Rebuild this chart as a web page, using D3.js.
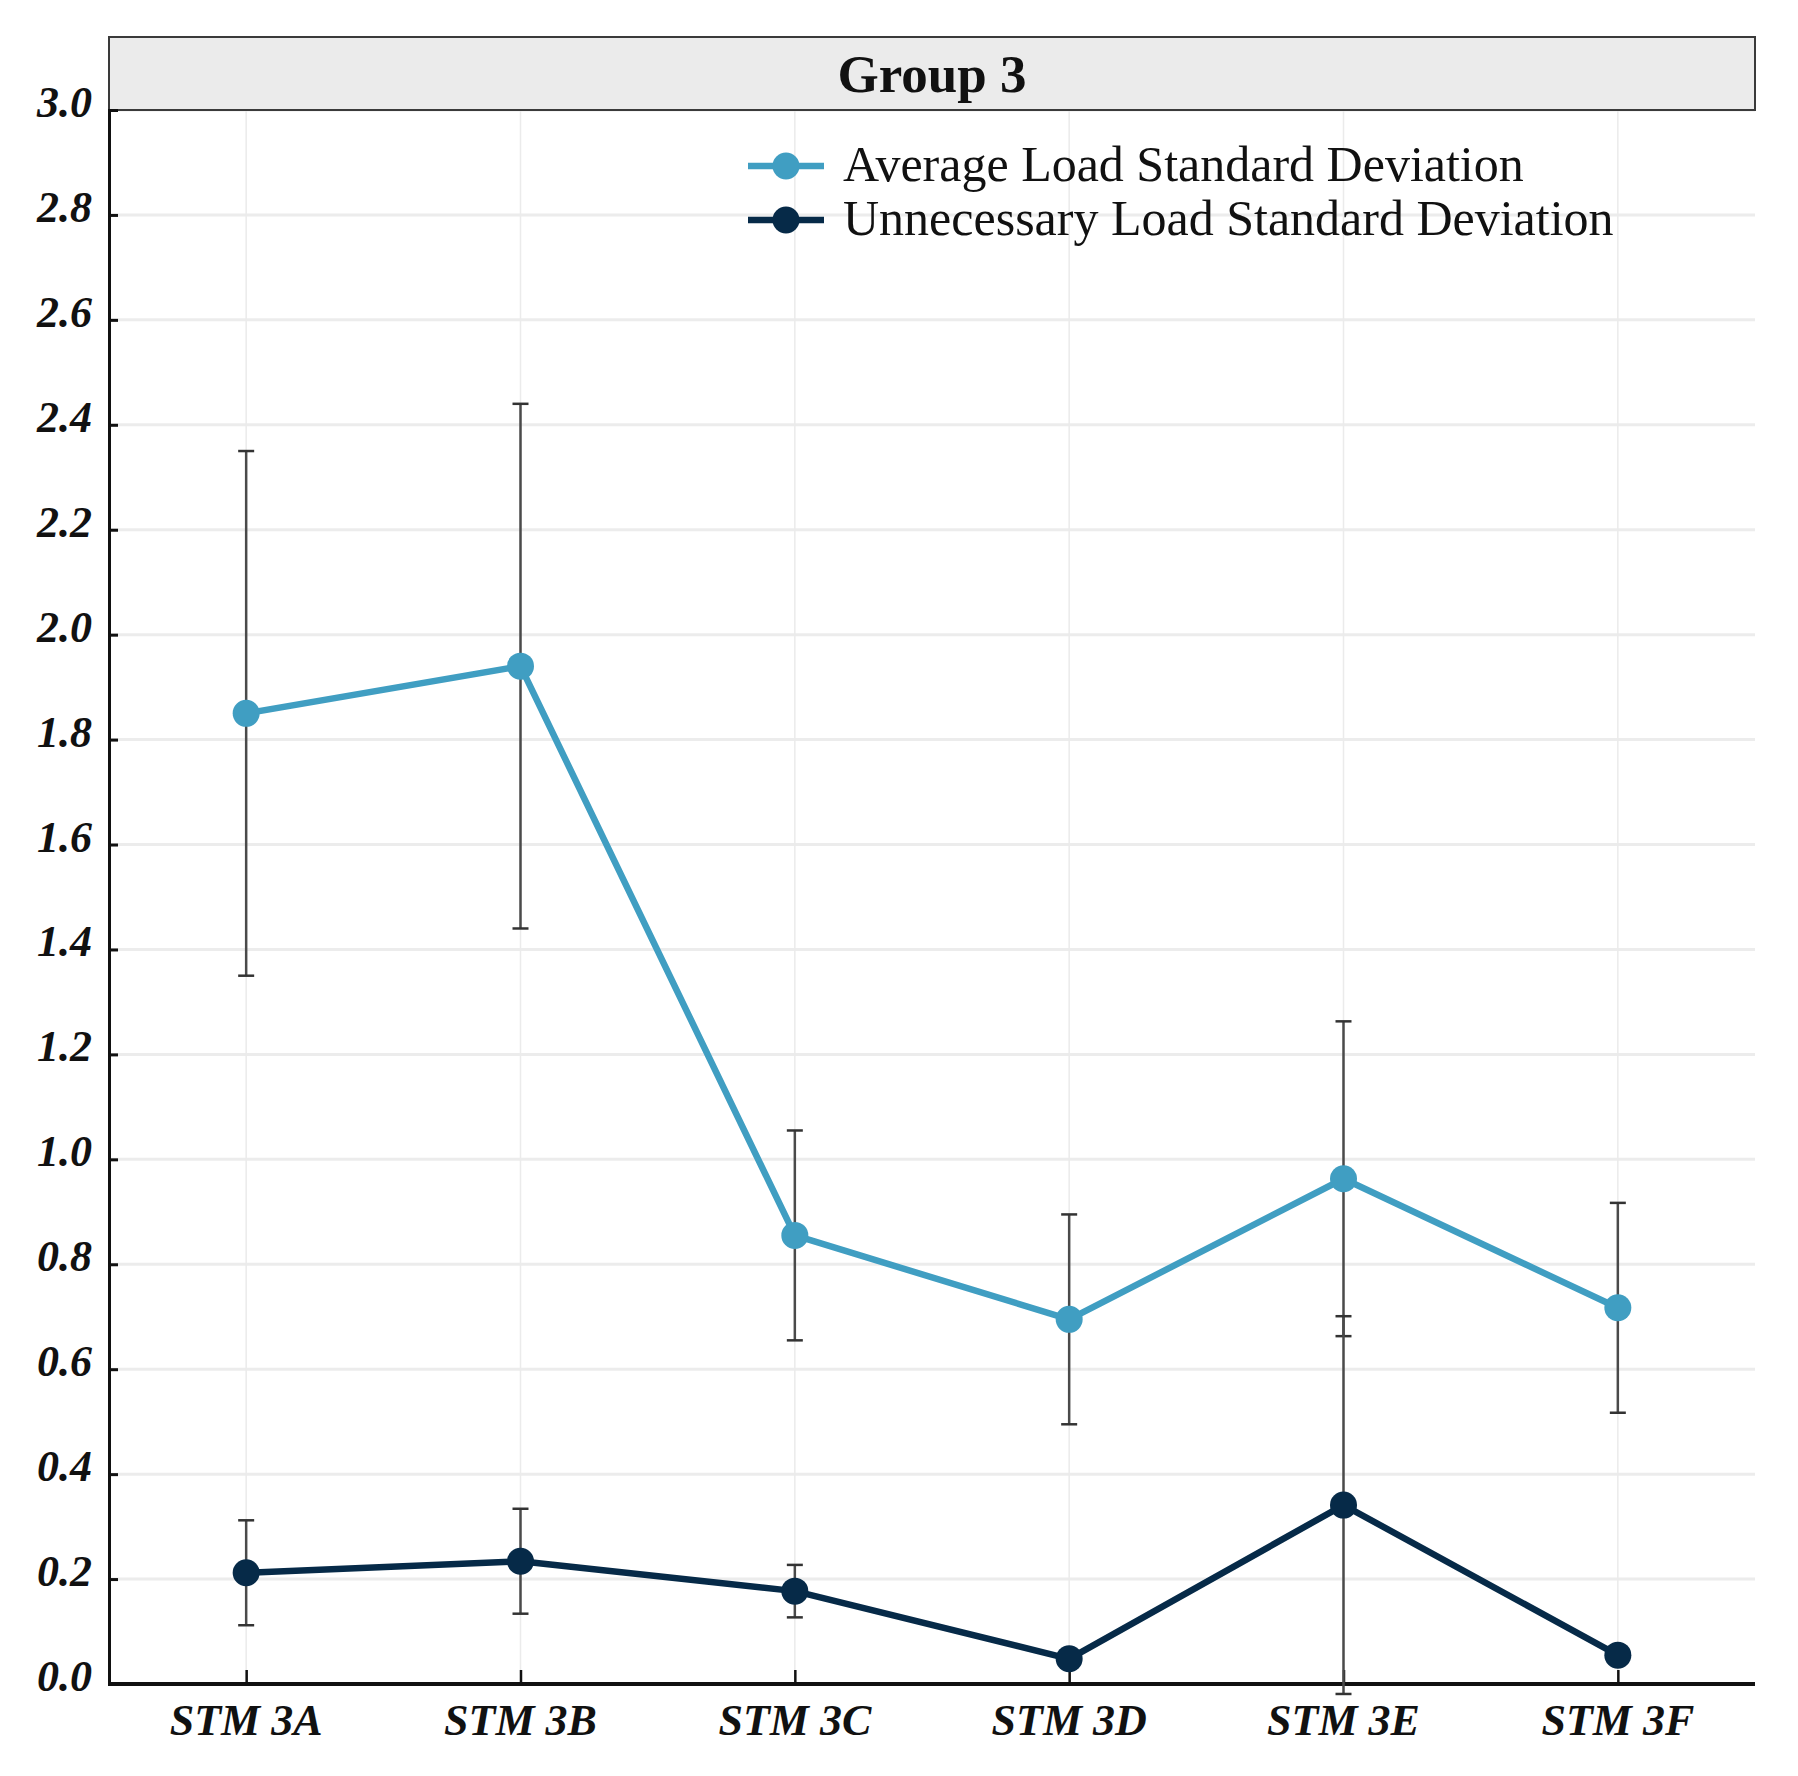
<head>
    <meta charset="utf-8">
    <style>
        body { margin: 0; background: #ffffff; }
        text { font-family: "Liberation Serif", "Times New Roman", serif; }
    </style>
    <script src="https://cdn.jsdelivr.net/npm/d3@7/dist/d3.min.js"></script>
</head>
<body>
    <div id="chart"></div>
    <script>
        // values
        const categories = ["STM 3A", "STM 3B", "STM 3C", "STM 3D", "STM 3E", "STM 3F"];
        const avgValues = [1.85, 1.94, 0.855, 0.695, 0.963, 0.717];
        const avgErrors = [0.50, 0.50, 0.20, 0.20, 0.30, 0.20];
        const unnValues = [0.212, 0.234, 0.177, 0.048, 0.341, 0.055];
        const unnErrors = [0.10, 0.10, 0.05, 0.0, 0.36, 0.0];
        const yTicks = [0, 0.2, 0.4, 0.6, 0.8, 1.0, 1.2, 1.4, 1.6, 1.8, 2.0, 2.2, 2.4, 2.6, 2.8, 3.0];
        const seriesNames = ["Average Load Standard Deviation", "Unnecessary Load Standard Deviation"];
        const title = "Group 3";

        const colors = ["rgb(64,158,194)", "rgb(6,42,72)"];

        const width = 1798, height = 1776;
        const margin = { left: 109, right: 43, top: 110, bottom: 92 };
        const plotW = width - margin.left - margin.right;
        const plotH = height - margin.top - margin.bottom;

        const svg = d3.select("#chart")
            .append("svg")
            .attr("width", width)
            .attr("height", height);

        const x = d3.scalePoint()
            .domain(categories)
            .range([margin.left, margin.left + plotW])
            .padding(0.5);

        const y = d3.scaleLinear()
            .domain([0, 3])
            .range([margin.top + plotH, margin.top]);

        // grid
        svg.append("g")
            .selectAll("line")
            .data(yTicks)
            .enter()
            .append("line")
            .attr("x1", margin.left)
            .attr("x2", margin.left + plotW)
            .attr("y1", d => y(d))
            .attr("y2", d => y(d))
            .attr("stroke", "#ececec")
            .attr("stroke-width", 3);

        svg.append("g")
            .selectAll("line")
            .data(categories)
            .enter()
            .append("line")
            .attr("x1", d => x(d))
            .attr("x2", d => x(d))
            .attr("y1", margin.top)
            .attr("y2", margin.top + plotH)
            .attr("stroke", "#ebebeb")
            .attr("stroke-width", 1.5);

        // title strip
        svg.append("rect")
            .attr("x", margin.left)
            .attr("y", 37)
            .attr("width", plotW)
            .attr("height", margin.top - 37)
            .attr("fill", "#ebebeb")
            .attr("stroke", "#3a3a3a")
            .attr("stroke-width", 2);

        svg.append("text")
            .attr("x", margin.left + plotW / 2)
            .attr("y", 92)
            .attr("text-anchor", "middle")
            .attr("font-size", 53)
            .attr("font-weight", "bold")
            .attr("fill", "#111")
            .text(title);

        // axes
        const yAxis = svg.append("g")
            .attr("transform", "translate(" + margin.left + ",0)")
            .call(d3.axisRight(y).tickValues(yTicks).tickSize(9).tickFormat(""));
        yAxis.select(".domain").attr("stroke", "#111").attr("stroke-width", 3);
        yAxis.selectAll(".tick line").attr("stroke", "#111").attr("stroke-width", 3);

        svg.append("g")
            .selectAll("text")
            .data(yTicks)
            .enter()
            .append("text")
            .attr("x", margin.left - 17)
            .attr("y", d => y(d) + 7)
            .attr("text-anchor", "end")
            .attr("font-size", 44)
            .attr("font-weight", "bold")
            .attr("font-style", "italic")
            .attr("fill", "#111")
            .text(d => d.toFixed(1));

        const xAxis = svg.append("g")
            .attr("transform", "translate(0," + (margin.top + plotH) + ")")
            .call(d3.axisTop(x).tickSize(14).tickFormat(""));
        xAxis.select(".domain").attr("stroke", "#111").attr("stroke-width", 4)
            .attr("d", "M" + margin.left + ",0H" + (margin.left + plotW));
        xAxis.selectAll(".tick line").attr("stroke", "#111").attr("stroke-width", 2.5);

        svg.append("g")
            .selectAll("text")
            .data(categories)
            .enter()
            .append("text")
            .attr("x", d => x(d))
            .attr("y", margin.top + plotH + 51)
            .attr("text-anchor", "middle")
            .attr("font-size", 44)
            .attr("font-weight", "bold")
            .attr("font-style", "italic")
            .attr("fill", "#111")
            .text(d => d);

        // series
        const series = [
            { values: avgValues, errors: avgErrors, color: colors[0] },
            { values: unnValues, errors: unnErrors, color: colors[1] }
        ];

        const errG = svg.append("g");
        series.forEach(function(s) {
            categories.forEach(function(c, i) {
                if (s.errors[i] <= 0) return;
                const top = y(s.values[i] + s.errors[i]);
                const bot = y(s.values[i] - s.errors[i]);
                errG.append("line")
                    .attr("x1", x(c)).attr("x2", x(c))
                    .attr("y1", top).attr("y2", bot)
                    .attr("stroke", "#4a4a4a").attr("stroke-width", 2.5);
                [top, bot].forEach(function(yy) {
                    errG.append("line")
                        .attr("x1", x(c) - 8).attr("x2", x(c) + 8)
                        .attr("y1", yy).attr("y2", yy)
                        .attr("stroke", "#333").attr("stroke-width", 2.5);
                });
            });
        });

        const line = d3.line()
            .x((d, i) => x(categories[i]))
            .y(d => y(d));

        series.forEach(function(s) {
            svg.append("path")
                .datum(s.values)
                .attr("d", line)
                .attr("fill", "none")
                .attr("stroke", s.color)
                .attr("stroke-width", 6.5)
                .attr("stroke-linejoin", "round");

            svg.append("g")
                .selectAll("circle")
                .data(s.values)
                .enter()
                .append("circle")
                .attr("cx", (d, i) => x(categories[i]))
                .attr("cy", d => y(d))
                .attr("r", 13.5)
                .attr("fill", s.color);
        });

        // legend
        const legend = svg.append("g");
        seriesNames.forEach(function(name, i) {
            const ly = 166 + i * 54;
            legend.append("line")
                .attr("x1", 748).attr("x2", 824)
                .attr("y1", ly).attr("y2", ly)
                .attr("stroke", colors[i]).attr("stroke-width", 6.5);
            legend.append("circle")
                .attr("cx", 786).attr("cy", ly).attr("r", 13.5)
                .attr("fill", colors[i]);
            legend.append("text")
                .attr("x", 843)
                .attr("y", ly + 15)
                .attr("font-size", 50)
                .attr("fill", "#111")
                .text(name);
        });
    </script>
</body>
